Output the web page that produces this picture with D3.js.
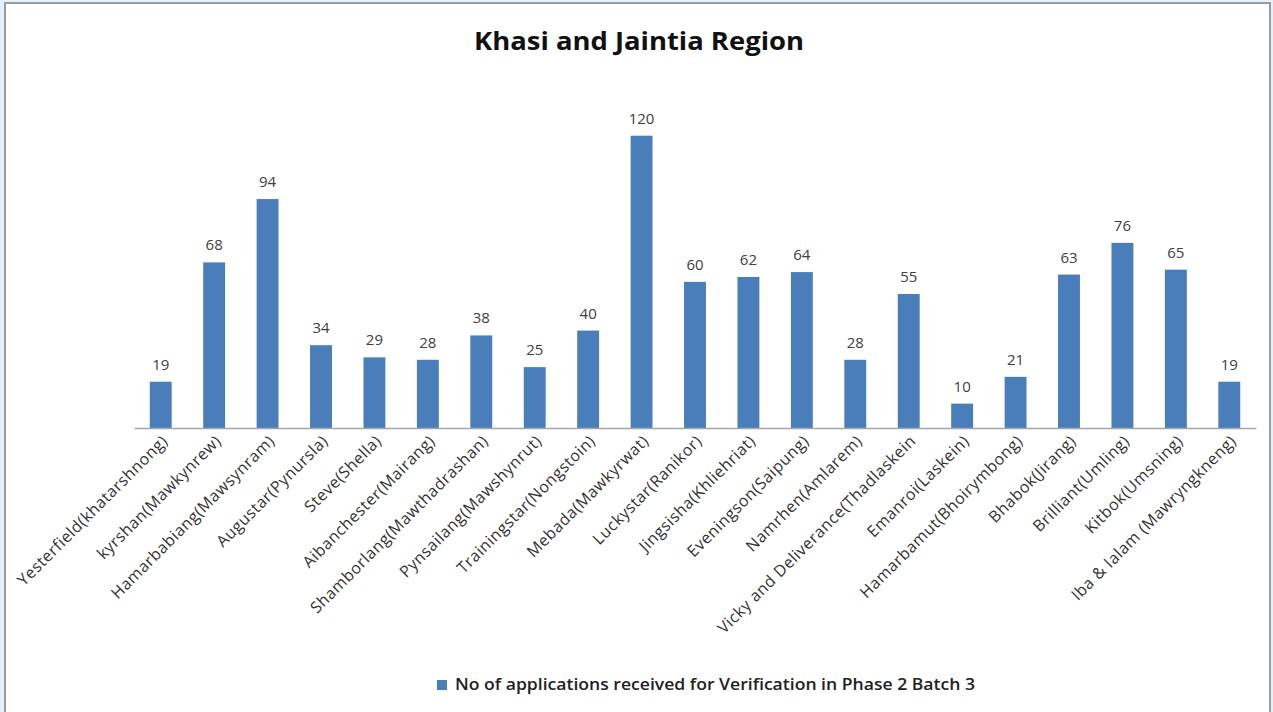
<!DOCTYPE html>
<html>
<head>
<meta charset="utf-8">
<script src="https://cdn.jsdelivr.net/npm/d3@7"></script>
<style>
  html, body { margin: 0; padding: 0; background: #e4f0fa; }
  svg { display: block; }
  text { font-family: "Open Sans", "Liberation Sans", sans-serif; }
</style>
</head>
<body>
<div id="chart"></div>
<script>
"use strict";

var categories = [
  'Yesterfield(khatarshnong)', 'kyrshan(Mawkynrew)', 'Hamarbabiang(Mawsynram)',
  'Augustar(Pynursla)', 'Steve(Shella)', 'Aibanchester(Mairang)',
  'Shamborlang(Mawthadrashan)', 'Pynsailang(Mawshynrut)', 'Trainingstar(Nongstoin)',
  'Mebada(Mawkyrwat)', 'Luckystar(Ranikor)', 'Jingsisha(Khliehriat)',
  'Eveningson(Saipung)', 'Namrhen(Amlarem)', 'Vicky and Deliverance(Thadlaskein',
  'Emanroi(Laskein)', 'Hamarbamut(Bhoirymbong)', 'Bhabok(Jirang)',
  'Brilliant(Umling)', 'Kitbok(Umsning)', 'Iba & Ialam (Mawryngkneng)'
];
var applications = [19, 68, 94, 34, 29, 28, 38, 25, 40, 120, 60, 62, 64, 28, 55, 10, 21, 63, 76, 65, 19];
var seriesName = 'No of applications received for Verification in Phase 2 Batch 3';
var chartTitle = 'Khasi and Jaintia Region';

var W = 1273, H = 712;
var svg = d3.select('#chart').append('svg').attr('width', W).attr('height', H);

// chart area frame
svg.append('rect').attr('x', 5).attr('y', 3).attr('width', 1265).attr('height', H + 10)
  .style('fill', '#fff').style('stroke', '#9c9c9c').style('stroke-width', 2);

var x = d3.scaleBand().domain(categories).range([134, 1256]).paddingInner(0.59).paddingOuter(0.295);
var y = d3.scaleLinear().domain([0, 140]).range([428, 87]);

svg.append('text').attr('x', 639).attr('y', 50).attr('text-anchor', 'middle')
  .attr('textLength', 330).attr('lengthAdjust', 'spacingAndGlyphs')
  .style('font-size', '25px').style('font-weight', 'bold').style('fill', '#111')
  .text(chartTitle);

svg.selectAll('.bar').data(applications).enter().append('rect')
  .attr('class', 'bar')
  .attr('x', function (d, i) { return x(categories[i]); })
  .attr('y', function (d) { return y(d); })
  .attr('width', x.bandwidth())
  .attr('height', function (d) { return y(0) - y(d); })
  .style('fill', '#4a7ebb');

svg.selectAll('.val').data(applications).enter().append('text')
  .attr('class', 'val')
  .attr('x', function (d, i) { return x(categories[i]) + x.bandwidth() / 2; })
  .attr('y', function (d) { return y(d) - 12; })
  .attr('text-anchor', 'middle')
  .style('font-size', '15px').style('fill', '#404040')
  .text(function (d) { return d; });

var xAxis = d3.axisBottom(x).tickSize(0).tickSizeOuter(0);
var gx = svg.append('g').attr('transform', 'translate(0,' + y(0) + ')').call(xAxis);
gx.select('.domain').style('stroke', '#a6a6a6').style('stroke-width', 1.5);
gx.selectAll('.tick text')
  .attr('x', 0).attr('y', 0).attr('dy', 0)
  .attr('text-anchor', 'end')
  .attr('transform', 'translate(8,14) rotate(-45)')
  .style('font-family', '"Open Sans", "Liberation Sans", sans-serif')
  .style('font-size', '16px').style('letter-spacing', '0.5px').style('fill', '#333');

// legend
var lg = svg.append('g').attr('transform', 'translate(437,680)');
lg.append('rect').attr('width', 10).attr('height', 10).style('fill', '#4a7ebb');
lg.append('text').attr('x', 18).attr('y', 10)
  .attr('textLength', 520).attr('lengthAdjust', 'spacingAndGlyphs')
  .style('font-size', '16px').style('font-weight', 600).style('fill', '#222')
  .text(seriesName);
</script>
</body>
</html>
